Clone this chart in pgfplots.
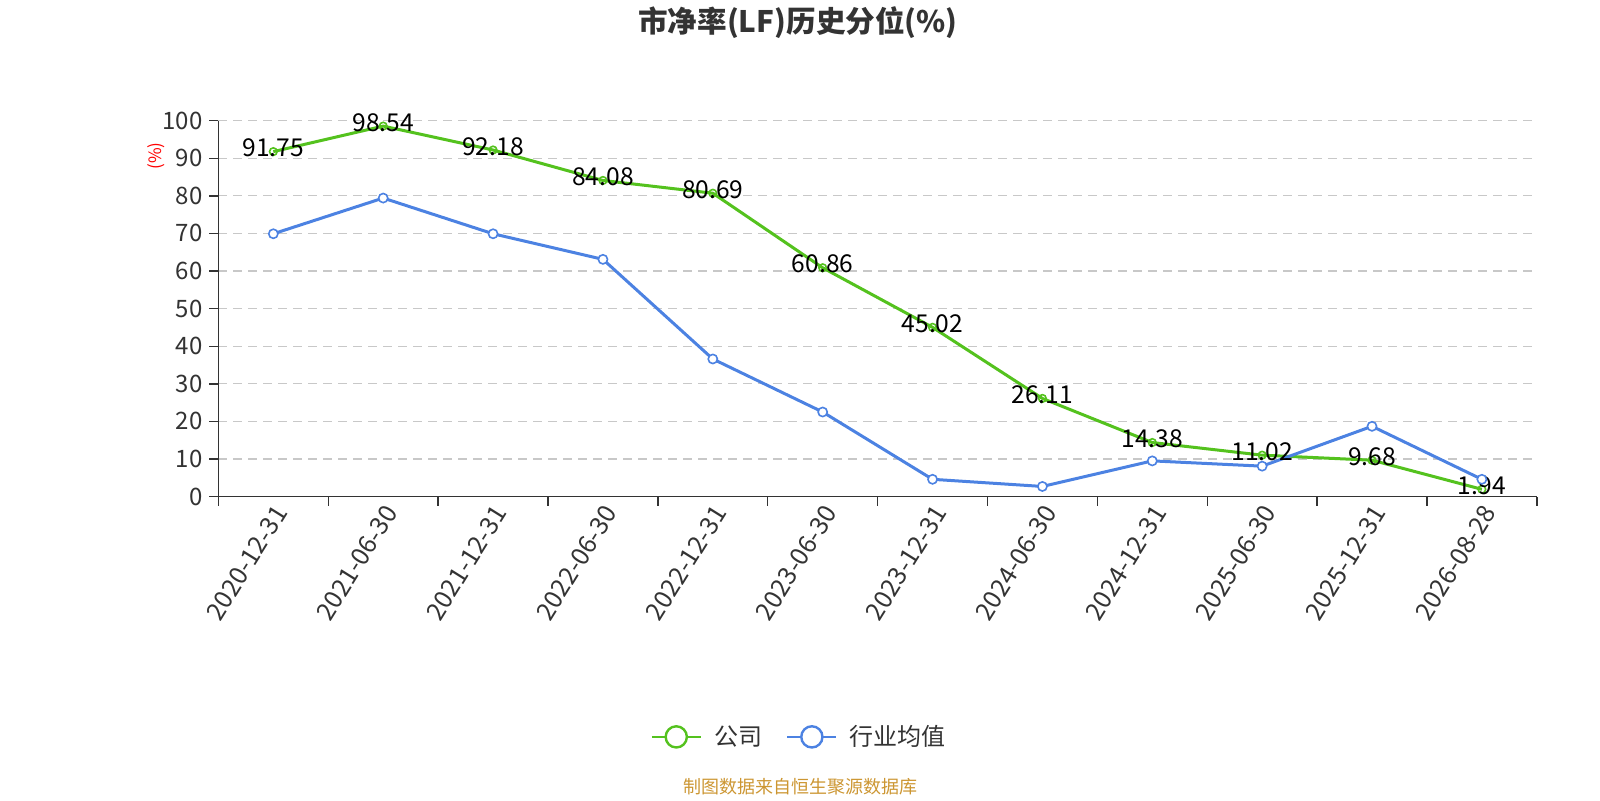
\documentclass[border=0pt]{standalone}
\usepackage{fontspec}
\setmainfont{Noto Sans CJK SC}
\usepackage{pgfplots}
\pgfplotsset{compat=1.18}
\definecolor{cgreen}{RGB}{84,194,30}
\definecolor{cblue}{RGB}{76,130,226}
\definecolor{ctext}{RGB}{51,51,51}
\definecolor{cgrid}{RGB}{200,200,200}
\definecolor{cfoot}{RGB}{204,150,50}
\begin{document}
\begin{tikzpicture}
\begin{axis}[
  at={(109.2pt,151.7pt)}, anchor=south west,
  scale only axis, width=659.2pt, height=188pt,
  xmin=-0.5, xmax=11.5, ymin=0, ymax=100,
  /pgf/number format/assume math mode=true,
  axis x line*=bottom, axis y line*=left,
  axis line style={ctext, line width=0.7pt},
  ytick={0,10,...,100},
  yticklabel style={font=\fontsize{12}{12}\selectfont, text=ctext},
  ymajorgrids, grid style={cgrid, dash pattern=on 4.5pt off 3pt, line width=0.55pt},
  xtick={0,...,11},
  xticklabels={2020-12-31,2021-06-30,2021-12-31,2022-06-30,2022-12-31,2023-06-30,2023-12-31,2024-06-30,2024-12-31,2025-06-30,2025-12-31,2026-08-28},
  xticklabel style={font=\fontsize{12.5}{12}\selectfont, text=ctext, rotate=58, anchor=east, inner sep=1pt, xshift=2pt, yshift=-4pt},
  minor xtick={-0.5,0.5,...,11.5},
  major x tick style={draw=none},
  minor tick length=4.5pt, major tick length=4.5pt,
  tick align=outside,
  tick style={ctext, line width=0.7pt},
  legend style={at={(axis description cs:0.4412,-0.639)}, anchor=center, draw=none, font=\fontsize{12}{12}\selectfont, text=ctext,
    /tikz/every odd column/.append style={column sep=4pt},
    /tikz/every even column/.append style={column sep=10pt}},
  legend columns=-1,
  legend image code/.code={\draw[#1, mark=none, line width=1.3pt] (0pt,0pt) -- (24.5pt,0pt); \draw[#1, fill=white, solid, mark=none, line width=1.2pt] (12.25pt,0pt) circle (5.3pt);},
  clip=false,
]
\addplot[cgreen, line width=1.5pt, mark=o, mark size=1.9pt, mark options={fill=white, line width=0.8pt},
  nodes near coords, point meta=explicit,
  every node near coord/.style={anchor=center, yshift=1.8pt, font=\fontsize{12.3}{12}\selectfont, text=black, /pgf/number format/fixed, /pgf/number format/fixed zerofill, /pgf/number format/precision=2}]
  coordinates {(0,91.75)[91.75] (1,98.54)[98.54] (2,92.18)[92.18] (3,84.08)[84.08] (4,80.69)[80.69] (5,60.86)[60.86] (6,45.02)[45.02] (7,26.11)[26.11] (8,14.38)[14.38] (9,11.02)[11.02] (10,9.68)[9.68] (11,1.94)[1.94]};
\addlegendentry{公司}
\addplot[cblue, line width=1.5pt, mark=*, mark size=2.3pt, mark options={fill=white, line width=0.8pt}]
  coordinates {(0,69.9) (1,79.4) (2,69.9) (3,63.1) (4,36.6) (5,22.5) (6,4.6) (7,2.7) (8,9.5) (9,8.1) (10,18.7) (11,4.6)};
\addlegendentry{行业均值}
\end{axis}
\node[font=\bfseries\fontsize{14.8}{16}\selectfont, text=ctext] at (399pt,388.5pt) {市净率(LF)历史分位(\%)};
\node[font=\fontsize{8.5}{9}\selectfont, text=red, rotate=90] at (78.3pt,322pt) {(\%)};
\node[font=\fontsize{9}{10}\selectfont, text=cfoot] at (400pt,6.5pt) {制图数据来自恒生聚源数据库};
\pgfresetboundingbox
\path[use as bounding box] (0pt,0pt) rectangle (800pt,400pt);
\end{tikzpicture}
\end{document}
